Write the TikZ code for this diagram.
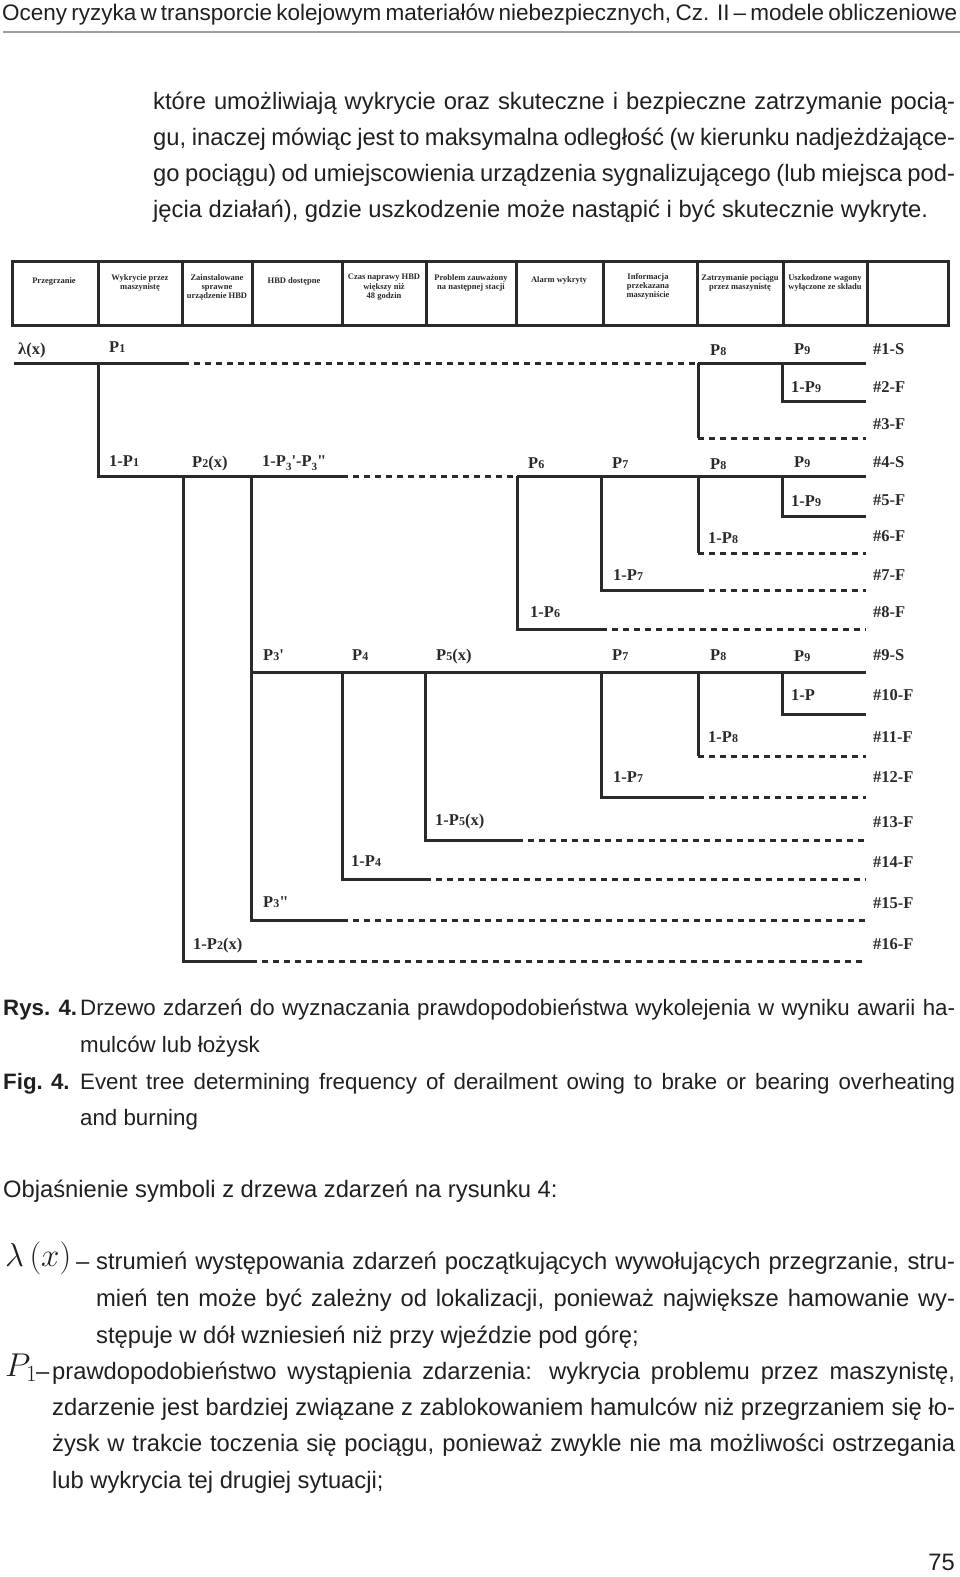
\RequirePackage{fix-cm}
\documentclass[tikz,border=0pt]{standalone}
\usepackage{fontspec}
\setmainfont{Liberation Sans}
\newfontfamily\lblfont{Liberation Serif}
\definecolor{txtcol}{HTML}{231F20}
\definecolor{treecol}{HTML}{2A2A2A}
\newcommand{\sbs}[1]{{\fontsize{12}{12}\selectfont #1}}
\newcommand{\sbl}[1]{\raisebox{-3.5pt}{\fontsize{11}{11}\selectfont #1}}
\tikzset{
  tl/.style={line width=3pt, draw=treecol, line join=miter},
  td/.style={line width=3pt, draw=treecol, dash pattern=on 6pt off 5pt},
  lbl/.style={anchor=base west, inner sep=0pt, text=treecol,
    font=\lblfont\bfseries\fontsize{16.5}{17}\selectfont},
  hdr/.style={anchor=north, align=center, inner sep=0pt, text=treecol,
    font=\lblfont\bfseries\fontsize{8.5}{9.3}\selectfont},
  boxl/.style={line width=3pt, draw=treecol},
  bodyt/.style={anchor=mid west, inner sep=0pt, text=txtcol,
    font=\fontsize{23.75}{28}\selectfont},
  capt/.style={bodyt, font=\fontsize{22.3}{26}\selectfont},
}
\begin{document}
\begin{tikzpicture}[x=1pt,y=-1pt]
\useasboundingbox (0,0) rectangle (960,1577);
\fill[white] (0,0) rectangle (960,1577);

% running head
\node[bodyt, font=\fontsize{22.5}{26}\selectfont] (head) at (2,18)
  {\makebox[954pt][s]{Oceny ryzyka w transporcie kolejowym materiałów niebezpiecznych, Cz. II \textendash{} modele obliczeniowe}};
\draw[gray!75, line width=1.5pt] (3,32) -- (960,32);

% paragraph
\node[bodyt] (p1) at (153,107) {\makebox[802pt][s]{które umożliwiają wykrycie oraz skuteczne i bezpieczne zatrzymanie pocią-}};
\node[bodyt] (p2) at (153,143) {\makebox[802pt][s]{gu, inaczej mówiąc jest to maksymalna odległość (w kierunku nadjeżdżające-}};
\node[bodyt] (p3) at (153,179) {\makebox[802pt][s]{go pociągu) od umiejscowienia urządzenia sygnalizującego (lub miejsca pod-}};
\node[bodyt] (p4) at (153,215) {jęcia działań), gdzie uszkodzenie może nastąpić i być skutecznie wykryte.};

% header boxes
\draw[boxl] (12,261) rectangle (948,325);
\foreach \x in {98,182,252,342,426,516,603,697,783,867}
  \draw[boxl] (\x,261) -- (\x,325);
\node[hdr] (h1) at (54,277) {Przegrzanie};
\node[hdr] (h2) at (140,274) {Wykrycie przez\\maszynistę};
\node[hdr] (h3) at (217,274) {Zainstalowane\\sprawne\\urządzenie HBD};
\node[hdr] (h4) at (294,277) {HBD dostępne};
\node[hdr] (h5) at (384,274) {Czas naprawy HBD\\większy niż\\48 godzin};
\node[hdr] (h6) at (471,274) {Problem zauważony\\na następnej stacji};
\node[hdr] (h7) at (559,276) {Alarm wykryty};
\node[hdr] (h8) at (648,273) {Informacja\\przekazana\\maszyniście};
\node[hdr] (h9) at (740,274) {Zatrzymanie pociągu\\przez maszynistę};
\node[hdr] (h10) at (825,274) {Uszkodzone wagony\\wyłączone ze składu};

% tree coordinates
\foreach \n/\x in {S/14,A/98,B/183,C/251,D/342,E/425,F/517,G/601,H/698,I/782,Z/866}{
  \foreach \r/\y in {1/363,2/401,3/438,4/476,5/516,6/553,7/590,8/629,9/672,10/714,11/756,12/797,13/840,14/879,15/920,16/961}{
    \coordinate (\n\r) at (\x,\y);
  }
}
% row 1 group
\draw[tl] (S1) -- (B1);
\draw[td] (B1) -- (H1);
\draw[tl] (H1) -- (Z1);
\draw[tl] (A1) -- (A4) -- (D4);
\draw[tl] (H1) -- (H3);
\draw[td] (H3) -- (Z3);
\draw[tl] (I1) -- (I2) -- (Z2);
% row 4 group
\draw[td] (D4) -- (F4);
\draw[tl] (F4) -- (Z4);
\draw[tl] (I4) -- (I5) -- (Z5);
\draw[tl] (H4) -- (H6);
\draw[td] (H6) -- (Z6);
\draw[tl] (G4) -- (G7) -- (H7);
\draw[td] (H7) -- (Z7);
\draw[tl] (F4) -- (F8) -- (G8);
\draw[td] (G8) -- (Z8);
% row 9 group
\draw[tl] (C4) -- (C9) -- (Z9);
\draw[tl] (I9) -- (I10) -- (Z10);
\draw[tl] (H9) -- (H11);
\draw[td] (H11) -- (Z11);
\draw[tl] (G9) -- (G12) -- (H12);
\draw[td] (H12) -- (Z12);
\draw[tl] (E9) -- (E13) -- (F13);
\draw[td] (F13) -- (Z13);
\draw[tl] (D9) -- (D14) -- (E14);
\draw[td] (E14) -- (Z14);
\draw[tl] (C9) -- (C15) -- (D15);
\draw[td] (D15) -- (Z15);
\draw[tl] (B4) -- (B16) -- (C16);
\draw[td] (C16) -- (Z16);

% tree labels
\node[lbl] (l0) at (18,354.5) {λ(x)};
\node[lbl] (l1) at (109,352.5) {P\sbs{1}};
\node[lbl] (l2) at (109,466.5) {1-P\sbs{1}};
\node[lbl] (l3) at (192,467.5) {P\sbs{2}(x)};
\node[lbl] (l4) at (262,466.5) {1-P\sbl{3}'-P\sbl{3}"};
\node[lbl] (l5) at (528,468.5) {P\sbs{6}};
\node[lbl] (l6) at (612,468.5) {P\sbs{7}};
\node[lbl] (l7) at (710,355.5) {P\sbs{8}};
\node[lbl] (l8) at (794,354.5) {P\sbs{9}};
\node[lbl] (l9) at (791,392.5) {1-P\sbs{9}};
\node[lbl] (l10) at (710,469.5) {P\sbs{8}};
\node[lbl] (l11) at (794,467.5) {P\sbs{9}};
\node[lbl] (l12) at (791,506.5) {1-P\sbs{9}};
\node[lbl] (l13) at (708,543.5) {1-P\sbs{8}};
\node[lbl] (l14) at (613,580.5) {1-P\sbs{7}};
\node[lbl] (l15) at (530,617.5) {1-P\sbs{6}};
\node[lbl] (l16) at (263,660.5) {P\sbs{3}'};
\node[lbl] (l17) at (352,660.5) {P\sbs{4}};
\node[lbl] (l18) at (436,660.5) {P\sbs{5}(x)};
\node[lbl] (l19) at (612,660.5) {P\sbs{7}};
\node[lbl] (l20) at (710,660.5) {P\sbs{8}};
\node[lbl] (l21) at (794,661.5) {P\sbs{9}};
\node[lbl] (l22) at (791,700.5) {1-P};
\node[lbl] (l23) at (708,742.5) {1-P\sbs{8}};
\node[lbl] (l24) at (613,782.5) {1-P\sbs{7}};
\node[lbl] (l25) at (435,825.5) {1-P\sbs{5}(x)};
\node[lbl] (l26) at (351,866.5) {1-P\sbs{4}};
\node[lbl] (l27) at (263,907.5) {P\sbs{3}"};
\node[lbl] (l28) at (193,949.5) {1-P\sbs{2}(x)};
\foreach \k/\y in {1-S/349,2-F/387,3-F/424,4-S/462,5-F/500,6-F/536,7-F/575,8-F/612,9-S/655,10-F/695,11-F/737,12-F/777,13-F/822,14-F/862,15-F/903,16-F/944}
  \node[lbl] (o\k) at (873,\y+5.5) {\#\k};

% caption
\node[capt] (c1) at (3,1013) {\textbf{Rys. 4.}};
\node[capt] (c2) at (80,1013) {\makebox[875pt][s]{Drzewo zdarzeń do wyznaczania prawdopodobieństwa wykolejenia w wyniku awarii ha-}};
\node[capt] (c3) at (80,1050) {mulców lub łożysk};
\node[capt] (c4) at (3,1087) {\textbf{Fig. 4.}};
\node[capt] (c5) at (80,1087) {\makebox[875pt][s]{Event tree determining frequency of derailment owing to brake or bearing overheating}};
\node[capt] (c6) at (80,1123) {and burning};

\node[bodyt] (ob) at (3,1195) {Objaśnienie symboli z drzewa zdarzeń na rysunku 4:};

% legend
\node[anchor=mid west, inner sep=0pt, text=txtcol, font=\fontsize{33}{33}\selectfont] (lam) at (5,1264) {$\lambda\left(\rule[-10pt]{0pt}{36pt}x\right)$};
\node[bodyt] (lamd) at (76,1267) {\textendash};
\node[bodyt] (g1) at (96,1267) {\makebox[859pt][s]{strumień występowania zdarzeń początkujących wywołujących przegrzanie, stru-}};
\node[bodyt] (g2) at (96,1304) {\makebox[859pt][s]{mień ten może być zależny od lokalizacji, ponieważ największe hamowanie wy-}};
\node[bodyt] (g3) at (96,1341) {stępuje w dół wzniesień niż przy wjeździe pod górę;};
\node[anchor=mid west, inner sep=0pt, text=txtcol, font=\fontsize{33}{33}\selectfont] (pp) at (5,1374) {$P_1$};
\node[bodyt] (ppd) at (36,1377) {\textendash};
\node[bodyt] (g4) at (52,1377) {\makebox[903pt][s]{prawdopodobieństwo wystąpienia zdarzenia: wykrycia problemu przez maszynistę,}};
\node[bodyt] (g5) at (52,1413) {\makebox[903pt][s]{zdarzenie jest bardziej związane z zablokowaniem hamulców niż przegrzaniem się ło-}};
\node[bodyt] (g6) at (52,1449) {\makebox[903pt][s]{żysk w trakcie toczenia się pociągu, ponieważ zwykle nie ma możliwości ostrzegania}};
\node[bodyt] (g7) at (52,1486) {lub wykrycia tej drugiej sytuacji;};

\node[bodyt, anchor=mid east] (pg) at (955,1568) {75};
\end{tikzpicture}
\end{document}
